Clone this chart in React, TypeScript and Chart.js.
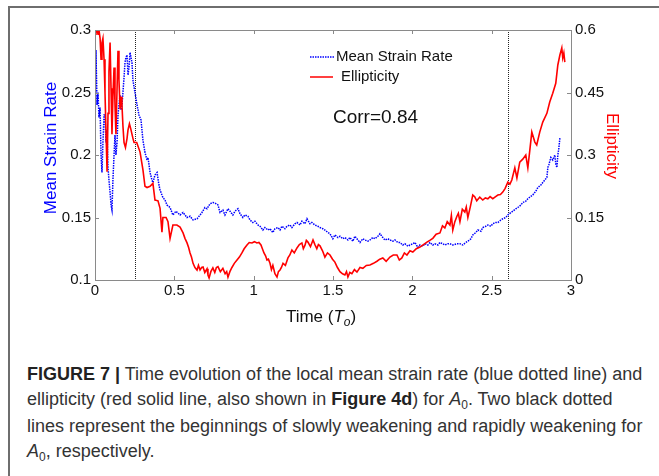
import React, { useEffect, useRef } from 'react';
import { Chart, registerables } from 'chart.js';

Chart.register(...registerables);

// ---- Data ----
const redTime = [
  0, 0.006, 0.013, 0.019, 0.025, 0.032, 0.038, 0.044, 0.05, 0.057, 0.063, 0.069, 0.076, 0.082, 0.088, 0.095,
  0.101, 0.107, 0.113, 0.12, 0.126, 0.132, 0.139, 0.145, 0.151, 0.158, 0.164, 0.17, 0.176, 0.183, 0.192, 0.202,
  0.208, 0.217, 0.224, 0.233, 0.239, 0.246, 0.263, 0.284, 0.302, 0.315, 0.328, 0.347, 0.365, 0.378, 0.397, 0.41,
  0.422, 0.428, 0.448, 0.46, 0.473, 0.491, 0.516, 0.536, 0.555, 0.567, 0.58, 0.59, 0.599, 0.608, 0.618, 0.63,
  0.643, 0.652, 0.662, 0.672, 0.681, 0.692, 0.706, 0.712, 0.719, 0.73, 0.743, 0.755, 0.765, 0.775, 0.79, 0.806,
  0.82, 0.83, 0.838, 0.85, 0.863, 0.878, 0.895, 0.91, 0.926, 0.94, 0.958, 0.972, 0.989, 1.005, 1.02, 1.033,
  1.046, 1.055, 1.065, 1.075, 1.084, 1.093, 1.103, 1.112, 1.121, 1.134, 1.147, 1.156, 1.166, 1.175, 1.185, 1.2,
  1.216, 1.228, 1.241, 1.256, 1.273, 1.288, 1.304, 1.313, 1.323, 1.332, 1.342, 1.358, 1.374, 1.386, 1.398, 1.408,
  1.418, 1.434, 1.449, 1.465, 1.481, 1.497, 1.512, 1.528, 1.544, 1.56, 1.575, 1.585, 1.594, 1.606, 1.619, 1.635,
  1.651, 1.67, 1.688, 1.71, 1.733, 1.755, 1.777, 1.795, 1.814, 1.835, 1.859, 1.88, 1.903, 1.918, 1.934, 1.95,
  1.966, 1.985, 2.003, 2.025, 2.048, 2.07, 2.092, 2.11, 2.129, 2.15, 2.174, 2.19, 2.205, 2.22, 2.237, 2.246,
  2.255, 2.268, 2.281, 2.29, 2.3, 2.315, 2.331, 2.34, 2.35, 2.365, 2.381, 2.393, 2.406, 2.425, 2.444, 2.46,
  2.476, 2.49, 2.507, 2.525, 2.539, 2.555, 2.57, 2.585, 2.602, 2.615, 2.627, 2.646, 2.659, 2.677, 2.696, 2.715,
  2.728, 2.74, 2.753, 2.772, 2.784, 2.803, 2.822, 2.848, 2.866, 2.885, 2.904, 2.917, 2.93, 2.942, 2.948, 2.955,
  2.961,
];
const redEllipticity = [
  0.59, 0.6, 0.6, 0.59, 0.6, 0.58, 0.53, 0.57, 0.58, 0.53, 0.45, 0.36, 0.26, 0.4, 0.5, 0.57,
  0.46, 0.35, 0.44, 0.51, 0.42, 0.35, 0.46, 0.55, 0.48, 0.41, 0.44, 0.42, 0.37, 0.33, 0.318, 0.34,
  0.36, 0.375, 0.365, 0.35, 0.34, 0.33, 0.33, 0.307, 0.265, 0.225, 0.222, 0.225, 0.232, 0.192, 0.19, 0.172,
  0.115, 0.15, 0.15, 0.14, 0.1, 0.132, 0.132, 0.127, 0.113, 0.1, 0.089, 0.078, 0.065, 0.055, 0.04, 0.03,
  0.024, 0.035, 0.024, 0.03, 0.031, 0.018, 0.027, 0.012, 0.005, 0.02, 0.029, 0.018, 0.03, 0.032, 0.02, 0.028,
  0.015, 0.02, 0.007, 0.02, 0.03, 0.04, 0.048, 0.055, 0.065, 0.075, 0.084, 0.09, 0.089, 0.092, 0.089, 0.09,
  0.084, 0.075, 0.065, 0.058, 0.048, 0.05, 0.04, 0.025, 0.035, 0.015, 0.007, 0.02, 0.024, 0.03, 0.04, 0.035,
  0.053, 0.06, 0.072, 0.065, 0.077, 0.085, 0.089, 0.075, 0.083, 0.095, 0.091, 0.08, 0.096, 0.085, 0.075, 0.085,
  0.082, 0.07, 0.055, 0.065, 0.06, 0.05, 0.043, 0.03, 0.02, 0.015, 0.012, 0.02, 0.007, 0.018, 0.015, 0.025,
  0.019, 0.03, 0.028, 0.035, 0.036, 0.04, 0.045, 0.05, 0.053, 0.045, 0.055, 0.06, 0.06, 0.048, 0.053, 0.065,
  0.06, 0.07, 0.067, 0.075, 0.079, 0.085, 0.091, 0.095, 0.1, 0.11, 0.113, 0.13, 0.125, 0.14, 0.132, 0.155,
  0.12, 0.14, 0.153, 0.16, 0.14, 0.17, 0.163, 0.175, 0.15, 0.175, 0.204, 0.2, 0.19, 0.199, 0.192, 0.197,
  0.195, 0.2, 0.195, 0.2, 0.204, 0.205, 0.211, 0.22, 0.235, 0.23, 0.24, 0.269, 0.245, 0.283, 0.29, 0.3,
  0.269, 0.31, 0.355, 0.331, 0.324, 0.355, 0.379, 0.4, 0.427, 0.448, 0.472, 0.516, 0.54, 0.557, 0.533, 0.545,
  0.523,
];

const blueTime = [
  0, 0.006, 0.013, 0.019, 0.025, 0.032, 0.038, 0.044, 0.05, 0.057, 0.063, 0.069, 0.076, 0.082, 0.088, 0.095,
  0.101, 0.107, 0.113, 0.12, 0.126, 0.132, 0.139, 0.145, 0.151, 0.158, 0.164, 0.17, 0.176, 0.183, 0.189, 0.195,
  0.202, 0.208, 0.214, 0.221, 0.227, 0.233, 0.239, 0.252, 0.265, 0.277, 0.29, 0.302, 0.315, 0.328, 0.334, 0.347,
  0.359, 0.365, 0.378, 0.391, 0.403, 0.41, 0.422, 0.428, 0.441, 0.454, 0.473, 0.491, 0.51, 0.536, 0.555, 0.58,
  0.599, 0.618, 0.643, 0.662, 0.674, 0.693, 0.706, 0.725, 0.743, 0.756, 0.775, 0.788, 0.806, 0.819, 0.838, 0.851,
  0.869, 0.882, 0.901, 0.914, 0.932, 0.945, 0.964, 0.977, 0.995, 1.008, 1.027, 1.04, 1.058, 1.071, 1.09, 1.103,
  1.121, 1.134, 1.153, 1.166, 1.178, 1.197, 1.21, 1.229, 1.241, 1.26, 1.273, 1.292, 1.304, 1.323, 1.336, 1.355,
  1.367, 1.386, 1.405, 1.418, 1.436, 1.449, 1.468, 1.481, 1.499, 1.512, 1.531, 1.544, 1.562, 1.575, 1.594, 1.607,
  1.625, 1.638, 1.657, 1.67, 1.688, 1.701, 1.72, 1.733, 1.751, 1.764, 1.783, 1.796, 1.814, 1.827, 1.846, 1.859,
  1.877, 1.89, 1.909, 1.922, 1.94, 1.953, 1.972, 1.985, 2.003, 2.016, 2.035, 2.048, 2.066, 2.079, 2.098, 2.111,
  2.129, 2.142, 2.161, 2.174, 2.192, 2.205, 2.224, 2.237, 2.255, 2.281, 2.3, 2.318, 2.337, 2.35, 2.369, 2.381,
  2.4, 2.413, 2.432, 2.444, 2.463, 2.476, 2.495, 2.507, 2.526, 2.539, 2.558, 2.57, 2.589, 2.602, 2.621, 2.633,
  2.652, 2.665, 2.684, 2.696, 2.715, 2.728, 2.747, 2.759, 2.778, 2.791, 2.81, 2.822, 2.835, 2.848, 2.854, 2.86,
  2.873, 2.885, 2.898, 2.904, 2.911, 2.917, 2.923, 2.93,
];
const blueStrainRate = [
  0.21, 0.284, 0.24, 0.25, 0.23, 0.238, 0.2, 0.186, 0.21, 0.232, 0.232, 0.21, 0.22, 0.19, 0.18, 0.17,
  0.16, 0.156, 0.18, 0.2, 0.216, 0.2, 0.21, 0.232, 0.24, 0.248, 0.236, 0.24, 0.25, 0.262, 0.274, 0.278,
  0.28, 0.264, 0.27, 0.282, 0.278, 0.274, 0.26, 0.25, 0.24, 0.232, 0.228, 0.212, 0.202, 0.196, 0.198, 0.186,
  0.18, 0.178, 0.184, 0.186, 0.176, 0.172, 0.168, 0.166, 0.164, 0.16, 0.158, 0.152, 0.155, 0.152, 0.154, 0.15,
  0.151, 0.148, 0.149, 0.152, 0.154, 0.158, 0.157, 0.161, 0.162, 0.1616, 0.16, 0.154, 0.156, 0.152, 0.157, 0.155,
  0.152, 0.155, 0.157, 0.153, 0.15, 0.152, 0.151, 0.148, 0.146, 0.147, 0.144, 0.143, 0.14, 0.142, 0.14, 0.141,
  0.138, 0.141, 0.142, 0.14, 0.143, 0.141, 0.143, 0.144, 0.142, 0.145, 0.146, 0.144, 0.147, 0.145, 0.149, 0.145,
  0.146, 0.144, 0.143, 0.142, 0.141, 0.14, 0.138, 0.137, 0.133, 0.136, 0.134, 0.135, 0.133, 0.134, 0.132, 0.134,
  0.131, 0.135, 0.132, 0.13, 0.133, 0.132, 0.131, 0.132, 0.134, 0.133, 0.135, 0.137, 0.134, 0.132, 0.133, 0.132,
  0.131, 0.132, 0.13, 0.13, 0.128, 0.129, 0.127, 0.128, 0.129, 0.13, 0.126, 0.128, 0.127, 0.129, 0.128, 0.13,
  0.128, 0.129, 0.128, 0.13, 0.129, 0.128, 0.129, 0.129, 0.128, 0.129, 0.129, 0.128, 0.13, 0.131, 0.133, 0.136,
  0.138, 0.14, 0.139, 0.142, 0.143, 0.144, 0.143, 0.145, 0.146, 0.146, 0.148, 0.149, 0.15, 0.152, 0.154, 0.155,
  0.157, 0.158, 0.16, 0.162, 0.163, 0.165, 0.167, 0.168, 0.171, 0.174, 0.176, 0.178, 0.18, 0.182, 0.19, 0.192,
  0.198, 0.196, 0.2, 0.193, 0.19, 0.2, 0.205, 0.2136,
];

const xTicks = [0, 0.5, 1, 1.5, 2, 2.5, 3];
const leftTicks = [0.1, 0.15, 0.2, 0.25, 0.3];
const rightTicks = [0, 0.15, 0.3, 0.45, 0.6];
const markerTimes = [0.25, 2.6];
const seriesLabels = ['Mean Strain Rate', 'Ellipticity'];
const leftTitle = 'Mean Strain Rate';
const rightTitle = 'Ellipticity';
const corrLabel = 'Corr=0.84';

const BLUE = '#0000ff';
const RED = '#ff0000';
const AXIS = '#8a8a8a';
const FONT = '"Liberation Sans", Arial, sans-serif';

const overlayPlugin = {
  id: 'overlay',
  beforeDatasetsDraw(chart: any) {
    const { ctx, chartArea, scales } = chart;
    ctx.save();
    ctx.strokeStyle = '#222';
    ctx.lineWidth = 1;
    ctx.setLineDash([1, 1]);
    markerTimes.forEach((t) => {
      const px = Math.round(scales.x.getPixelForValue(t)) + 0.5;
      ctx.beginPath();
      ctx.moveTo(px, chartArea.top);
      ctx.lineTo(px, chartArea.bottom);
      ctx.stroke();
    });
    ctx.restore();
  },
  afterDraw(chart: any) {
    const { ctx, chartArea, scales } = chart;
    const { left, right, top, bottom } = chartArea;
    ctx.save();
    // axes box
    ctx.strokeStyle = AXIS;
    ctx.lineWidth = 1;
    ctx.setLineDash([]);
    ctx.strokeRect(Math.round(left) + 0.5, Math.round(top) + 0.5, Math.round(right - left), Math.round(bottom - top));
    // inward ticks
    const tl = 4;
    ctx.beginPath();
    xTicks.forEach((v) => {
      const px = Math.round(scales.x.getPixelForValue(v)) + 0.5;
      ctx.moveTo(px, bottom);
      ctx.lineTo(px, bottom - tl);
      ctx.moveTo(px, top);
      ctx.lineTo(px, top + tl);
    });
    leftTicks.forEach((v) => {
      const py = Math.round(scales.y.getPixelForValue(v)) + 0.5;
      ctx.moveTo(left, py);
      ctx.lineTo(left + tl, py);
    });
    rightTicks.forEach((v) => {
      const py = Math.round(scales.y1.getPixelForValue(v)) + 0.5;
      ctx.moveTo(right, py);
      ctx.lineTo(right - tl, py);
    });
    ctx.stroke();

    // axis titles
    ctx.textAlign = 'center';
    ctx.textBaseline = 'middle';
    ctx.font = `17px ${FONT}`;
    ctx.fillStyle = BLUE;
    ctx.save();
    ctx.translate(51, 148);
    ctx.rotate(-Math.PI / 2);
    ctx.fillText(leftTitle, 0, 0);
    ctx.restore();
    ctx.fillStyle = RED;
    ctx.save();
    ctx.translate(612, 146);
    ctx.rotate(Math.PI / 2);
    ctx.fillText(rightTitle, 0, 0);
    ctx.restore();

    // x title: Time (T_o)
    ctx.fillStyle = '#111';
    ctx.textAlign = 'left';
    ctx.textBaseline = 'alphabetic';
    const parts = [
      { t: 'Time (', f: `17px ${FONT}`, dy: 0 },
      { t: 'T', f: `italic 17px ${FONT}`, dy: 0 },
      { t: 'o', f: `italic 12px ${FONT}`, dy: 4 },
      { t: ')', f: `17px ${FONT}`, dy: 0 },
    ];
    let total = 0;
    parts.forEach((p) => { ctx.font = p.f; total += ctx.measureText(p.t).width; });
    let cx = 321 - total / 2;
    const base = 322;
    parts.forEach((p) => {
      ctx.font = p.f;
      ctx.fillText(p.t, cx, base + p.dy);
      cx += ctx.measureText(p.t).width;
    });

    // legend
    ctx.lineWidth = 1.5;
    ctx.strokeStyle = BLUE;
    ctx.setLineDash([1.5, 1]);
    ctx.beginPath();
    ctx.moveTo(310, 57);
    ctx.lineTo(335, 57);
    ctx.stroke();
    ctx.setLineDash([]);
    ctx.strokeStyle = RED;
    ctx.beginPath();
    ctx.moveTo(310, 77);
    ctx.lineTo(333, 77);
    ctx.stroke();
    ctx.fillStyle = '#111';
    ctx.font = `15px ${FONT}`;
    ctx.textBaseline = 'middle';
    ctx.fillText(seriesLabels[0], 336, 57);
    ctx.fillText(seriesLabels[1], 341, 77);

    // correlation annotation
    ctx.font = `19px ${FONT}`;
    ctx.fillText(corrLabel, 333, 118);
    ctx.restore();
  },
};

function ChartCanvas() {
  const ref = useRef<HTMLCanvasElement | null>(null);
  useEffect(() => {
    if (!ref.current) return;
    const chart = new Chart(ref.current, {
      type: 'line',
      data: {
        datasets: [
          {
            label: seriesLabels[1],
            data: redTime.map((t, i) => ({ x: t, y: redEllipticity[i] })),
            yAxisID: 'y1',
            borderColor: RED,
            borderWidth: 1.6,
            pointRadius: 0,
            tension: 0,
          },
          {
            label: seriesLabels[0],
            data: blueTime.map((t, i) => ({ x: t, y: blueStrainRate[i] })),
            yAxisID: 'y',
            borderColor: BLUE,
            borderWidth: 1.5,
            borderDash: [1.5, 1],
            pointRadius: 0,
            tension: 0,
          },
        ],
      },
      options: {
        animation: false,
        responsive: false,
        maintainAspectRatio: false,
        layout: { padding: { top: 30, left: 0, right: 0, bottom: 0 } },
        plugins: { legend: { display: false }, tooltip: { enabled: false } },
        scales: {
          x: {
            type: 'linear',
            position: 'bottom',
            min: 0,
            max: 3,
            grid: { display: false, drawTicks: false },
            border: { display: false },
            afterBuildTicks: (s: any) => { s.ticks = xTicks.map((v) => ({ value: v })); },
            afterFit: (s: any) => { s.height = 65; },
            ticks: {
              padding: 2,
              color: '#111',
              font: { family: FONT, size: 15 },
              maxRotation: 0,
              autoSkip: false,
              callback: (v: any) => String(v),
            },
          },
          y: {
            type: 'linear',
            position: 'left',
            min: 0.1,
            max: 0.3,
            grid: { display: false, drawTicks: false },
            border: { display: false },
            afterBuildTicks: (s: any) => { s.ticks = leftTicks.map((v) => ({ value: v })); },
            afterFit: (s: any) => { s.width = 95; },
            ticks: {
              padding: 4,
              color: '#111',
              font: { family: FONT, size: 15 },
              autoSkip: false,
              callback: (v: any) => String(v),
            },
          },
          y1: {
            type: 'linear',
            position: 'right',
            min: 0,
            max: 0.6,
            grid: { display: false, drawTicks: false },
            border: { display: false },
            afterBuildTicks: (s: any) => { s.ticks = rightTicks.map((v) => ({ value: v })); },
            afterFit: (s: any) => { s.width = 88; },
            ticks: {
              padding: 4,
              color: '#111',
              font: { family: FONT, size: 15 },
              autoSkip: false,
              callback: (v: any) => String(v),
            },
          },
        },
      },
      plugins: [overlayPlugin],
    } as any);
    return () => chart.destroy();
  }, []);
  return <canvas ref={ref} width={659} height={345} style={{ position: 'absolute', left: 0, top: 0, width: 659, height: 345 }} />;
}

const sub = { fontSize: '12px', position: 'relative' as const, top: '4px', fontStyle: 'normal' as const };

export default function App() {
  useEffect(() => {
    document.body.style.margin = '0';
  }, []);
  return (
    <div style={{ position: 'relative', width: 659, height: 476, overflow: 'hidden', background: '#fff', fontFamily: FONT }}>
      <div style={{ position: 'absolute', left: 8, top: 6, width: 800, height: 600, borderTop: '2px solid #6e6e6e', borderLeft: '2px solid #6e6e6e' }} />
      <ChartCanvas />
      <div style={{ position: 'absolute', left: 27, top: 362, fontSize: 18, lineHeight: '25px', color: '#333', whiteSpace: 'nowrap' }}>
        <div><b style={{ color: '#222' }}>FIGURE 7 |</b> Time evolution of the local mean strain rate (blue dotted line) and</div>
        <div>ellipticity (red solid line, also shown in <b style={{ color: '#222' }}>Figure 4d</b>) for <i>A</i><span style={sub}>0</span>. Two black dotted</div>
        <div>lines represent the beginnings of slowly weakening and rapidly weakening for</div>
        <div><i>A</i><span style={sub}>0</span>, respectively.</div>
      </div>
    </div>
  );
}
